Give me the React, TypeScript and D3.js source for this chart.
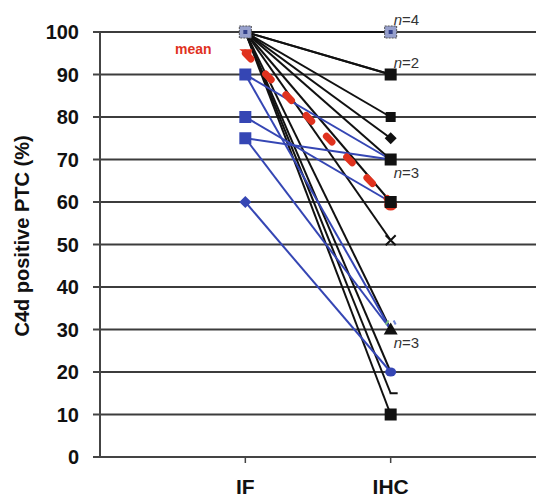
import React from "react";
import * as d3 from "d3";

const categories = ["IF", "IHC"];
const yTicks = [0, 10, 20, 30, 40, 50, 60, 70, 80, 90, 100];

// black patient lines (IF -> IHC)
const blackIF = [100, 100, 100, 100, 100, 100, 100, 100, 100, 100, 100, 100, 100, 100, 100];
const blackIHC = [100, 100, 100, 100, 90, 90, 80, 75, 70, 60, 51, 30, 20, 15, 10];

// blue patient lines (IF -> IHC)
const blueIF = [90, 90, 80, 75, 75, 60];
const blueIHC = [70, 30, 60, 70, 30, 20];

// mean line
const meanValues = [95, 60];

// IF markers
const ifMarkerValues = [100, 90, 80, 75, 60];
const ifMarkerShapes = ["mixed", "square", "square", "square", "diamond"];

// IHC markers
const ihcMarkerValues = [100, 90, 80, 75, 70, 60, 51, 30, 20, 15, 10];
const ihcMarkerShapes = ["mixed", "square", "smallsquare", "diamond", "square", "square", "x", "triangle", "circle", "dash", "square"];

// n labels
const nValues = [100, 90, 70, 30];
const nCounts = ["4", "2", "3", "3"];
const nAbove = [true, true, false, false];

const W = 536;
const H = 497;
const BLACK = "#111";
const BLUE = "#3546b4";
const RED = "#e0321e";
const GRID = "#3c3c3c";
const FONT = "'Liberation Sans', Arial, sans-serif";

export default function App() {
  const x = d3.scaleLinear().domain([0, 3]).range([100, 536]);
  const y = d3.scaleLinear().domain([0, 100]).range([457, 32]);
  const xIF = x(1);
  const xIHC = x(2);
  const line = d3.line<[number, number]>().x((d) => d[0]).y((d) => d[1]);

  const marker = (shape: string, cx: number, cy: number, color: string, key: string) => {
    switch (shape) {
      case "square":
        return <rect key={key} x={cx - 6} y={cy - 6} width={12} height={12} fill={color} />;
      case "smallsquare":
        return <rect key={key} x={cx - 5} y={cy - 5} width={10} height={10} fill={color} />;
      case "mixed":
        return (
          <g key={key}>
            <rect x={cx - 6} y={cy - 6} width={12} height={12} fill="#97a0cc" stroke="#555" strokeWidth={1} strokeDasharray="2 1" />
            <rect x={cx - 2} y={cy - 2} width={4} height={4} fill="#33408a" />
          </g>
        );
      case "diamond":
        return <path key={key} d={`M${cx},${cy - 6}L${cx + 6},${cy}L${cx},${cy + 6}L${cx - 6},${cy}Z`} fill={color} />;
      case "x":
        return (
          <path key={key} d={`M${cx - 5},${cy - 5}L${cx + 5},${cy + 5}M${cx - 5},${cy + 5}L${cx + 5},${cy - 5}`} stroke={color} strokeWidth={2} />
        );
      case "triangle":
        return (
          <g key={key}>
            <path d={`M${cx - 5},${cy - 5}L${cx - 2},${cy - 9}`} stroke="#7cc47c" strokeWidth={2} />
            <path d={`M${cx + 5},${cy - 5}L${cx + 3},${cy - 9}`} stroke="#6f86d8" strokeWidth={2} />
            <path d={`M${cx},${cy - 7}L${cx + 7},${cy + 5}L${cx - 7},${cy + 5}Z`} fill={color} />
          </g>
        );
      case "circle":
        return <ellipse key={key} cx={cx} cy={cy} rx={5.5} ry={4.5} fill={BLUE} />;
      case "dash":
        return <path key={key} d={`M${cx - 1},${cy}L${cx + 7},${cy}`} stroke={color} strokeWidth={2} />;
      default:
        return null;
    }
  };

  return (
    <svg width={W} height={H} style={{ position: "absolute", left: 0, top: 0, background: "#fff" }} fontFamily={FONT}>
      {/* grid lines */}
      {yTicks.filter((t) => t > 0).map((t) => (
        <line key={`g${t}`} x1={100} x2={536} y1={y(t)} y2={y(t)} stroke={GRID} strokeWidth={2} />
      ))}
      {/* axes */}
      <line x1={100} x2={100} y1={y(100)} y2={y(0) + 1} stroke="#444" strokeWidth={2} />
      <line x1={100} x2={536} y1={y(0)} y2={y(0)} stroke="#444" strokeWidth={2} />
      {yTicks.map((t) => (
        <line key={`t${t}`} x1={93} x2={100} y1={y(t)} y2={y(t)} stroke="#444" strokeWidth={2} />
      ))}
      {categories.map((c, i) => (
        <line key={`xt${c}`} x1={x(i + 1)} x2={x(i + 1)} y1={y(0)} y2={y(0) + 6} stroke="#444" strokeWidth={1.5} />
      ))}
      {/* tick labels */}
      {yTicks.map((t) => (
        <text key={`l${t}`} x={79} y={y(t)} dy="0.36em" textAnchor="end" fontSize={20} fontWeight="bold" fill="#111">
          {t}
        </text>
      ))}
      {categories.map((c, i) => (
        <text key={`xl${c}`} x={x(i + 1)} y={494} textAnchor="middle" fontSize={21} fontWeight="bold" fill="#111">
          {c}
        </text>
      ))}
      <text transform={`translate(29,236) rotate(-90)`} textAnchor="middle" fontSize={20} fontWeight="bold" fill="#111">
        C4d positive PTC (%)
      </text>

      {/* black lines */}
      {blackIF.map((v, i) => (
        <path key={`b${i}`} d={line([[xIF, y(v)], [xIHC, y(blackIHC[i])]]) || ""} stroke={BLACK} strokeWidth={2} fill="none" />
      ))}
      {/* blue lines */}
      {blueIF.map((v, i) => (
        <path key={`u${i}`} d={line([[xIF, y(v)], [xIHC, y(blueIHC[i])]]) || ""} stroke={BLUE} strokeWidth={2} fill="none" />
      ))}
      {/* mean line */}
      <path
        d={line([[xIF, y(meanValues[0])], [xIHC, y(meanValues[1])]]) || ""}
        stroke={RED}
        strokeWidth={7}
        strokeDasharray="8 21"
        strokeLinecap="round"
        fill="none"
      />
      <ellipse cx={xIHC} cy={y(meanValues[1]) + 3} rx={6.5} ry={5.5} fill={RED} />
      <path d={`M${xIF - 6},${y(meanValues[0]) - 4}L${xIF + 7},${y(meanValues[0]) - 4}L${xIF + 5},${y(meanValues[0]) + 5}Z`} fill={RED} />
      <text x={175} y={y(meanValues[0]) + 1} fontSize={14} fontWeight="bold" fill={RED}>
        mean
      </text>

      {/* IF markers */}
      {ifMarkerValues.map((v, i) => marker(ifMarkerShapes[i], xIF, y(v), BLUE, `im${i}`))}
      {/* IHC markers */}
      {ihcMarkerValues.map((v, i) => marker(ihcMarkerShapes[i], xIHC, y(v), BLACK, `hm${i}`))}

      {/* n labels */}
      {nValues.map((v, i) => (
        <text key={`n${i}`} x={xIHC + 3} y={y(v) + (nAbove[i] ? -7 : 18)} fontSize={15} fill="#333">
          <tspan fontStyle="italic">n</tspan>={nCounts[i]}
        </text>
      ))}
    </svg>
  );
}
